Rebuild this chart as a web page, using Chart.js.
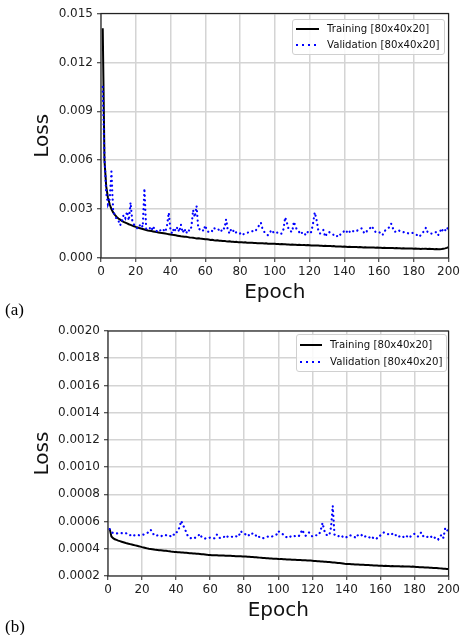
<!DOCTYPE html>
<html><head><meta charset="utf-8">
<script src="https://cdn.jsdelivr.net/npm/chart.js@4.4.1/dist/chart.umd.min.js"></script>
<style>
html,body{margin:0;padding:0;background:#fff;width:463px;height:635px;overflow:hidden;font-family:'DejaVu Sans',sans-serif;}
.wrap{position:absolute;left:0;}
canvas{display:block;}
.lg{position:absolute;border:1px solid #d0d0d0;border-radius:3px;background:rgba(255,255,255,0.85);box-sizing:border-box;}
.lg .s{position:absolute;height:2px;}
.lg .t{position:absolute;font-size:10.2px;line-height:12px;color:#111;white-space:nowrap;}
.pl{position:absolute;left:5px;font-family:'Liberation Serif','Times New Roman',serif;font-size:17px;line-height:20px;color:#000;}
</style></head><body>
<div class="wrap" style="top:0"><canvas id="cA" width="463" height="305"></canvas></div>
<div class="wrap" style="top:318px"><canvas id="cB" width="463" height="305"></canvas></div>
<div class="lg" id="lgA" style="left:292px;top:19px;width:153px;height:36px"></div>
<div class="lg" id="lgB" style="left:296px;top:334px;width:151px;height:38px"></div>
<div class="pl" style="top:300px">(a)</div>
<div class="pl" style="top:617px">(b)</div>
<script>
const trainLabel = 'Training [80x40x20]';
const valLabel = 'Validation [80x40x20]';
const xTitle = 'Epoch';
const yTitle = 'Loss';
const panelLabels = ['(a)', '(b)'];
const epochs = Array.from({length: 200}, (_, i) => i + 1);

const trainA = [
0.01410,0.00600,0.00440,0.00370,0.00330,0.00300,0.00280,0.00265,0.00252,0.00242,
0.00235,0.00228,0.00222,0.00217,0.00212,0.00207,0.00203,0.00199,0.00195,0.00191,
0.00188,0.00184,0.00181,0.00178,0.00175,0.00172,0.00169,0.00167,0.00165,0.00163,
0.00161,0.00159,0.00157,0.00155,0.00154,0.00152,0.00150,0.00148,0.00146,0.00144,
0.00142,0.00141,0.00139,0.00137,0.00135,0.00133,0.00132,0.00130,0.00130,0.00128,
0.00126,0.00125,0.00124,0.00122,0.00120,0.00121,0.00119,0.00118,0.00117,0.00115,
0.00115,0.00113,0.00111,0.00112,0.00109,0.00108,0.00109,0.00106,0.00106,0.00104,
0.00105,0.00103,0.00102,0.00103,0.00100,0.00100,0.00098,0.00099,0.00096,0.00097,
0.00096,0.00095,0.00096,0.00094,0.00094,0.00093,0.00093,0.00092,0.00092,0.00091,
0.00091,0.00090,0.00090,0.00089,0.00090,0.00088,0.00088,0.00087,0.00088,0.00087,
0.00086,0.00086,0.00085,0.00086,0.00084,0.00084,0.00083,0.00083,0.00082,0.00083,
0.00081,0.00081,0.00080,0.00081,0.00080,0.00079,0.00079,0.00078,0.00079,0.00078,
0.00077,0.00077,0.00076,0.00077,0.00076,0.00075,0.00075,0.00074,0.00075,0.00074,
0.00073,0.00073,0.00072,0.00073,0.00071,0.00071,0.00070,0.00071,0.00069,0.00070,
0.00069,0.00068,0.00069,0.00068,0.00067,0.00068,0.00067,0.00066,0.00067,0.00066,
0.00065,0.00066,0.00065,0.00064,0.00065,0.00064,0.00064,0.00063,0.00064,0.00063,
0.00063,0.00062,0.00063,0.00062,0.00061,0.00062,0.00061,0.00061,0.00060,0.00061,
0.00060,0.00060,0.00059,0.00060,0.00059,0.00058,0.00059,0.00058,0.00058,0.00057,
0.00058,0.00057,0.00057,0.00056,0.00057,0.00056,0.00056,0.00055,0.00056,0.00055,
0.00055,0.00054,0.00055,0.00054,0.00054,0.00055,0.00057,0.00059,0.00062,0.00067];

const valA = [
0.01050,0.00620,0.00400,0.00330,0.00360,0.00530,0.00290,0.00260,0.00240,0.00230,
0.00200,0.00225,0.00265,0.00245,0.00285,0.00230,0.00340,0.00230,0.00205,0.00195,
0.00180,0.00195,0.00210,0.00190,0.00427,0.00180,0.00175,0.00185,0.00168,0.00195,
0.00170,0.00165,0.00175,0.00168,0.00180,0.00172,0.00160,0.00200,0.00278,0.00170,
0.00150,0.00185,0.00165,0.00190,0.00160,0.00205,0.00155,0.00180,0.00150,0.00175,
0.00165,0.00190,0.00295,0.00250,0.00320,0.00180,0.00175,0.00180,0.00165,0.00200,
0.00165,0.00160,0.00170,0.00165,0.00185,0.00175,0.00178,0.00172,0.00160,0.00186,
0.00180,0.00237,0.00170,0.00150,0.00180,0.00170,0.00150,0.00160,0.00155,0.00150,
0.00158,0.00146,0.00150,0.00155,0.00157,0.00162,0.00165,0.00160,0.00167,0.00185,
0.00200,0.00217,0.00176,0.00160,0.00150,0.00140,0.00150,0.00172,0.00160,0.00150,
0.00155,0.00157,0.00148,0.00150,0.00176,0.00250,0.00217,0.00176,0.00165,0.00160,
0.00223,0.00190,0.00170,0.00160,0.00145,0.00160,0.00150,0.00140,0.00160,0.00150,
0.00160,0.00210,0.00280,0.00237,0.00172,0.00150,0.00160,0.00172,0.00130,0.00150,
0.00160,0.00155,0.00150,0.00140,0.00130,0.00135,0.00130,0.00150,0.00157,0.00165,
0.00172,0.00150,0.00160,0.00172,0.00165,0.00160,0.00165,0.00172,0.00175,0.00182,
0.00160,0.00150,0.00165,0.00172,0.00185,0.00196,0.00170,0.00160,0.00162,0.00160,
0.00150,0.00140,0.00165,0.00172,0.00180,0.00190,0.00210,0.00182,0.00160,0.00165,
0.00172,0.00165,0.00160,0.00158,0.00160,0.00155,0.00150,0.00152,0.00155,0.00150,
0.00145,0.00140,0.00130,0.00140,0.00150,0.00170,0.00186,0.00157,0.00155,0.00150,
0.00150,0.00155,0.00160,0.00140,0.00160,0.00182,0.00160,0.00172,0.00165,0.00207];

const trainB = [
0.000546,0.000490,0.000478,0.000470,0.000465,0.000460,0.000456,0.000452,0.000448,0.000444,
0.000440,0.000437,0.000434,0.000431,0.000428,0.000425,0.000422,0.000419,0.000416,0.000412,
0.000409,0.000406,0.000403,0.000400,0.000398,0.000396,0.000394,0.000392,0.000391,0.000390,
0.000389,0.000388,0.000386,0.000385,0.000383,0.000382,0.000380,0.000379,0.000377,0.000376,
0.000375,0.000374,0.000373,0.000372,0.000371,0.000370,0.000369,0.000368,0.000367,0.000366,
0.000365,0.000364,0.000363,0.000362,0.000360,0.000359,0.000358,0.000357,0.000355,0.000354,
0.000353,0.000353,0.000352,0.000352,0.000351,0.000351,0.000350,0.000350,0.000349,0.000349,
0.000348,0.000348,0.000347,0.000347,0.000346,0.000346,0.000345,0.000345,0.000344,0.000344,
0.000343,0.000342,0.000341,0.000340,0.000339,0.000338,0.000337,0.000336,0.000335,0.000334,
0.000333,0.000332,0.000331,0.000330,0.000329,0.000328,0.000327,0.000327,0.000326,0.000325,
0.000324,0.000324,0.000323,0.000323,0.000322,0.000321,0.000321,0.000320,0.000319,0.000319,
0.000318,0.000318,0.000317,0.000316,0.000316,0.000315,0.000314,0.000314,0.000313,0.000312,
0.000311,0.000310,0.000309,0.000308,0.000307,0.000306,0.000305,0.000304,0.000303,0.000302,
0.000301,0.000300,0.000299,0.000298,0.000296,0.000295,0.000294,0.000292,0.000290,0.000289,
0.000288,0.000288,0.000287,0.000286,0.000285,0.000285,0.000284,0.000283,0.000283,0.000282,
0.000281,0.000281,0.000280,0.000279,0.000279,0.000278,0.000277,0.000277,0.000276,0.000275,
0.000275,0.000274,0.000275,0.000273,0.000274,0.000272,0.000273,0.000272,0.000271,0.000272,
0.000271,0.000270,0.000271,0.000270,0.000269,0.000270,0.000269,0.000268,0.000269,0.000268,
0.000267,0.000266,0.000265,0.000265,0.000264,0.000263,0.000262,0.000262,0.000261,0.000260,
0.000259,0.000259,0.000258,0.000257,0.000256,0.000255,0.000254,0.000253,0.000252,0.000251];

const valB = [
0.000545,0.000525,0.000515,0.000515,0.000512,0.000515,0.000512,0.000515,0.000512,0.000510,
0.000515,0.000505,0.000500,0.000508,0.000500,0.000498,0.000502,0.000500,0.000498,0.000500,
0.000505,0.000510,0.000515,0.000525,0.000540,0.000525,0.000500,0.000495,0.000498,0.000495,
0.000490,0.000498,0.000495,0.000500,0.000495,0.000490,0.000495,0.000510,0.000500,0.000520,
0.000525,0.000560,0.000605,0.000575,0.000550,0.000520,0.000490,0.000480,0.000478,0.000485,
0.000480,0.000488,0.000495,0.000510,0.000485,0.000478,0.000475,0.000480,0.000478,0.000482,
0.000478,0.000475,0.000480,0.000505,0.000485,0.000478,0.000480,0.000485,0.000500,0.000490,
0.000485,0.000490,0.000488,0.000490,0.000495,0.000485,0.000500,0.000530,0.000515,0.000510,
0.000505,0.000512,0.000495,0.000500,0.000515,0.000510,0.000495,0.000480,0.000490,0.000485,
0.000478,0.000480,0.000485,0.000490,0.000492,0.000488,0.000495,0.000500,0.000505,0.000530,
0.000520,0.000510,0.000505,0.000490,0.000485,0.000495,0.000490,0.000485,0.000490,0.000495,
0.000490,0.000492,0.000510,0.000540,0.000515,0.000495,0.000505,0.000520,0.000505,0.000490,
0.000495,0.000500,0.000498,0.000505,0.000540,0.000590,0.000535,0.000505,0.000498,0.000500,
0.000560,0.000715,0.000505,0.000495,0.000490,0.000498,0.000500,0.000485,0.000490,0.000485,
0.000488,0.000500,0.000495,0.000490,0.000485,0.000505,0.000495,0.000490,0.000500,0.000485,
0.000490,0.000495,0.000488,0.000480,0.000490,0.000475,0.000470,0.000478,0.000480,0.000500,
0.000510,0.000520,0.000515,0.000510,0.000505,0.000500,0.000510,0.000495,0.000500,0.000505,
0.000490,0.000495,0.000485,0.000490,0.000500,0.000485,0.000480,0.000495,0.000505,0.000510,
0.000500,0.000490,0.000510,0.000520,0.000495,0.000485,0.000490,0.000485,0.000478,0.000490,
0.000495,0.000480,0.000485,0.000470,0.000490,0.000505,0.000480,0.000550,0.000530,0.000545];

const xTicks = {min: 0, max: 200, step: 20};
const yTicksA = {min: 0, max: 0.015, step: 0.003, decimals: 3};
const yTicksB = {min: 0.0002, max: 0.0020, step: 0.0002, decimals: 4};

Chart.defaults.font.family = "'DejaVu Sans', sans-serif";

const frame = {
  id: 'frame',
  afterDatasetsDraw(c) {
    const a = c.chartArea, ctx = c.ctx;
    ctx.save();
    ctx.strokeStyle = '#222';
    ctx.lineWidth = 1.2;
    ctx.strokeRect(a.left, a.top, a.right - a.left, a.bottom - a.top);
    ctx.restore();
  }
};

const gridOpts = {color: '#d4d4d4', lineWidth: 1.5, tickColor: '#222', tickLength: 4, tickWidth: 1};

function makeChart(id, train, val, yt, axisW, padR, padT) {
  return new Chart(document.getElementById(id), {
    type: 'line',
    data: {
      datasets: [
        {label: trainLabel, data: train.map((v, i) => ({x: epochs[i], y: v})),
         borderColor: '#000', borderWidth: 2, pointRadius: 0, fill: false, tension: 0, order: 1},
        {label: valLabel, data: val.map((v, i) => ({x: epochs[i], y: v})),
         borderColor: '#0000ff', borderWidth: 2.2, borderDash: [0.1, 4.6], borderCapStyle: 'round',
         pointRadius: 0, fill: false, tension: 0, order: 0}
      ]
    },
    options: {
      responsive: false, animation: false, devicePixelRatio: 1,
      layout: {padding: {left: 0, right: padR, top: padT, bottom: 0}},
      plugins: {legend: {display: false}, tooltip: {enabled: false}},
      scales: {
        x: {
          type: 'linear', min: xTicks.min, max: xTicks.max,
          afterFit(s) { s.height = 47; },
          ticks: {stepSize: xTicks.step, font: {size: 12}, color: '#222', padding: 3, maxRotation: 0, autoSkip: false},
          grid: gridOpts, border: {display: false},
          title: {display: true, text: xTitle, font: {size: 20}, color: '#111', padding: {top: 0, bottom: 0.5}}
        },
        y: {
          type: 'linear', min: yt.min, max: yt.max,
          afterFit(s) { s.width = axisW; },
          ticks: {stepSize: yt.step, font: {size: 12}, color: '#222', padding: 4,
                  callback: v => Number(v).toFixed(yt.decimals)},
          grid: gridOpts, border: {display: false},
          title: {display: true, text: yTitle, font: {size: 20}, color: '#111', padding: {top: 30.4, bottom: 0}}
        }
      }
    },
    plugins: [frame]
  });
}

makeChart('cA', trainA, valA, yTicksA, 101, 12, 13.5);
makeChart('cB', trainB, valB, yTicksB, 108, 11.3, 13);

function buildLegend(id, rows, sampleLeft, sampleW, textLeft) {
  const box = document.getElementById(id);
  rows.forEach(r => {
    const s = document.createElement('div');
    s.className = 's';
    s.style.left = sampleLeft + 'px';
    s.style.width = sampleW + 'px';
    s.style.top = (r.cy - 1) + 'px';
    s.style.background = r.dotted
      ? 'repeating-linear-gradient(to right, #0000ff 0 2px, transparent 2px 6px)'
      : '#000';
    box.appendChild(s);
    const t = document.createElement('div');
    t.className = 't';
    t.style.left = textLeft + 'px';
    t.style.top = (r.cy - 6) + 'px';
    t.textContent = r.label;
    box.appendChild(t);
  });
}
buildLegend('lgA', [{label: trainLabel, cy: 8.5}, {label: valLabel, cy: 24.5, dotted: true}], 3, 23, 34);
buildLegend('lgB', [{label: trainLabel, cy: 10}, {label: valLabel, cy: 27, dotted: true}], 3, 22, 33);
</script>
</body></html>
